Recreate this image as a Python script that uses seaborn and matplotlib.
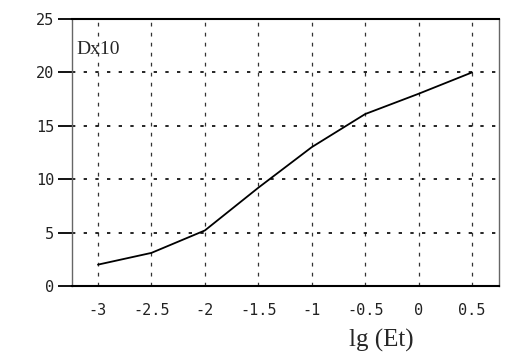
import matplotlib
matplotlib.use("Agg")
import matplotlib.pyplot as plt
import seaborn as sns
import pandas as pd

lg_et = [-3.0, -2.5, -2.0, -1.5, -1.0, -0.5, 0.0, 0.5]
dx10 = [2.0, 3.1, 5.2, 9.2, 13.0, 16.1, 18.0, 20.0]
x_ticks = [-3, -2.5, -2, -1.5, -1, -0.5, 0, 0.5]
x_labels = ["-3", "-2.5", "-2", "-1.5", "-1", "-0.5", "0", "0.5"]
y_ticks = [0, 5, 10, 15, 20, 25]

sns.set_style("white")
df = pd.DataFrame({"x": lg_et, "y": dx10})

fig = plt.figure(figsize=(5.32, 3.62), dpi=100)
ax = fig.add_axes([72/532, 1-286/362, (499-72)/532, (286-19)/362])
sns.lineplot(data=df, x="x", y="y", ax=ax, color="black", lw=1.3)

ax.set_xlim(-3.243, 0.752)
ax.set_ylim(0, 25)
ax.set_xticks(x_ticks)
ax.set_xticklabels(x_labels)
ax.set_yticks(y_ticks)
mono = "DejaVu Sans Mono"
for t in ax.get_xticklabels() + ax.get_yticklabels():
    t.set_fontfamily(mono)
    t.set_fontsize(11)
    t.set_color("#222222")
ax.tick_params(axis="y", direction="out", length=10, width=1.3, color="black", pad=3, left=True)
ax.tick_params(axis="x", length=0, pad=12)

for xv in x_ticks:
    ax.axvline(xv, color="#333333", lw=0.9, ls=(0, (3, 5)), zorder=0)
for yv in [5, 10, 15, 20]:
    ax.axhline(yv, color="black", lw=1.2, ls=(0, (2, 5)), zorder=0)

for s in ["left", "right"]:
    ax.spines[s].set_color("#666666")
    ax.spines[s].set_linewidth(1.0)
for s in ["top", "bottom"]:
    ax.spines[s].set_color("black")
    ax.spines[s].set_linewidth(1.5)

ax.set_xlabel("")
ax.set_ylabel("")
fig.text(98/532, 1-50/362, "Dx10", fontfamily="Liberation Serif", fontsize=14,
         ha="center", va="center")
fig.text(381/532, 1-340/362, "lg (Et)", fontfamily="Liberation Serif", fontsize=18,
         ha="center", va="center")

fig.savefig("out.png", dpi=100)
